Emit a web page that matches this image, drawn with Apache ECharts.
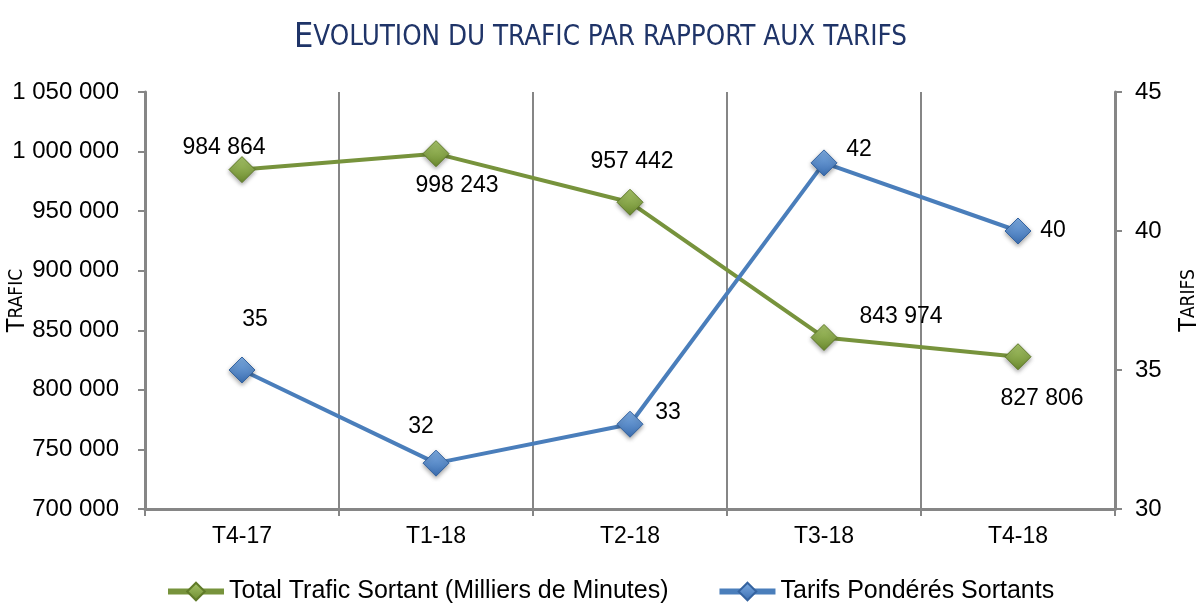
<!DOCTYPE html>
<html>
<head>
<meta charset="utf-8">
<script src="https://cdn.jsdelivr.net/npm/echarts@6/dist/echarts.min.js"></script>
<style>
  html, body { margin: 0; padding: 0; background: #fff; }
  #main { width: 1201px; height: 609px; }
</style>
</head>
<body>
<div id="main"></div>
<script>
var chartDom = document.getElementById('main');
var myChart = echarts.init(chartDom);
var option;

let categories = ['T4-17', 'T1-18', 'T2-18', 'T3-18', 'T4-18'];
let trafic = [984864, 998243, 957442, 843974, 827806];
let tarifs = [35.0, 31.65, 33.05, 42.45, 40.0];
let leftTicks = [700000, 1050000, 50000];
let rightTicks = [30, 45, 5];

// label placement around each point (pixels)
let traficLabelOffset = [[-18, -22], [21, 32], [2, -41], [77, -21], [24, 42]];
let tarifLabelOffset = [[13, -50], [-15, -36], [38, -12], [35, -13], [35, 0]];

const narrow = '"DejaVu Sans Condensed", "Liberation Sans Narrow", sans-serif';
const sans = '"Liberation Sans", Arial, sans-serif';

function fmt(v) {
  return String(Math.round(v)).replace(/\B(?=(\d{3})+(?!\d))/g, ' ');
}

function diamond(c1, c2) {
  return new echarts.graphic.LinearGradient(0, 0, 0, 1, [
    { offset: 0, color: c1 },
    { offset: 1, color: c2 }
  ]);
}

option = {
  backgroundColor: '#fff',
  title: {
    text: '{a|E}{b|VOLUTION DU TRAFIC PAR RAPPORT AUX TARIFS}',
    left: 'center',
    top: 16,
    textStyle: {
      fontWeight: 'normal',
      rich: {
        a: { fontFamily: narrow, fontSize: 34, fontWeight: 'normal', color: '#1f3468' },
        b: { fontFamily: narrow, fontSize: 27.5, fontWeight: 'normal', color: '#1f3468' }
      }
    }
  },
  legend: {
    bottom: 0,
    left: 160,
    itemWidth: 56,
    itemHeight: 22,
    itemGap: 48,
    textStyle: { fontFamily: sans, fontSize: 25, color: '#000' },
    data: [
      { name: 'Total Trafic Sortant (Milliers de Minutes)', lineStyle: { width: 6 } },
      { name: 'Tarifs Pondérés Sortants', lineStyle: { width: 6 } }
    ]
  },
  grid: { left: 145, right: 86, top: 92, bottom: 100, outerBoundsMode: 'none' },
  xAxis: {
    type: 'category',
    data: categories,
    boundaryGap: true,
    axisLine: { lineStyle: { color: '#868686', width: 3 } },
    axisTick: { show: true, length: 7, lineStyle: { color: '#868686', width: 2 } },
    axisLabel: { fontFamily: sans, fontSize: 23, color: '#000', margin: 16 },
    splitLine: { show: true, lineStyle: { color: '#868686', width: 2 } }
  },
  yAxis: [
    {
      type: 'value',
      min: leftTicks[0],
      max: leftTicks[1],
      interval: leftTicks[2],
      name: '{a|T}{b|RAFIC}',
      nameLocation: 'middle',
      nameRotate: 90,
      nameGap: 115,
      nameMoveOverlap: false,
      nameTextStyle: {
        rich: {
          a: { fontFamily: narrow, fontSize: 25, color: '#000' },
          b: { fontFamily: narrow, fontSize: 19, color: '#000' }
        }
      },
      axisLine: { show: true, lineStyle: { color: '#868686', width: 3 } },
      axisTick: { show: true, length: 7, lineStyle: { color: '#868686', width: 2 } },
      axisLabel: { fontFamily: sans, fontSize: 24, color: '#000', margin: 26, formatter: fmt },
      splitLine: { show: false }
    },
    {
      type: 'value',
      min: rightTicks[0],
      max: rightTicks[1],
      interval: rightTicks[2],
      name: '{a|T}{b|ARIFS}',
      nameLocation: 'middle',
      nameRotate: 90,
      nameGap: 62,
      nameMoveOverlap: false,
      nameTextStyle: {
        rich: {
          a: { fontFamily: narrow, fontSize: 25, color: '#000' },
          b: { fontFamily: narrow, fontSize: 19, color: '#000' }
        }
      },
      axisLine: { show: true, lineStyle: { color: '#868686', width: 3 } },
      axisTick: { show: true, length: 7, lineStyle: { color: '#868686', width: 2 } },
      axisLabel: { fontFamily: sans, fontSize: 24, color: '#000', margin: 20 },
      splitLine: { show: false }
    }
  ],
  series: [
    {
      name: 'Total Trafic Sortant (Milliers de Minutes)',
      type: 'line',
      yAxisIndex: 0,
      symbol: 'diamond',
      symbolSize: 26,
      lineStyle: { color: '#77933c', width: 4 },
      itemStyle: {
        color: diamond('#a9c66b', '#6b8a2e'),
        borderColor: '#5f7a28',
        borderWidth: 1,
        shadowColor: 'rgba(0,0,0,0.35)',
        shadowBlur: 4,
        shadowOffsetY: 2
      },
      data: trafic.map(function (v, i) {
        return {
          value: v,
          label: {
            show: true,
            position: 'inside',
            offset: traficLabelOffset[i],
            formatter: function (p) { return fmt(p.value); },
            fontFamily: sans,
            fontSize: 23,
            color: '#000'
          }
        };
      }),
      z: 3
    },
    {
      name: 'Tarifs Pondérés Sortants',
      type: 'line',
      yAxisIndex: 1,
      symbol: 'diamond',
      symbolSize: 26,
      lineStyle: { color: '#4a7ebb', width: 4 },
      itemStyle: {
        color: diamond('#7faee4', '#3a6db0'),
        borderColor: '#3463a0',
        borderWidth: 1,
        shadowColor: 'rgba(0,0,0,0.35)',
        shadowBlur: 4,
        shadowOffsetY: 2
      },
      data: tarifs.map(function (v, i) {
        return {
          value: v,
          label: {
            show: true,
            position: 'inside',
            offset: tarifLabelOffset[i],
            formatter: function (p) { return fmt(p.value); },
            fontFamily: sans,
            fontSize: 23,
            color: '#000'
          }
        };
      }),
      z: 4
    }
  ]
};

option && myChart.setOption(option);
</script>
</body>
</html>
